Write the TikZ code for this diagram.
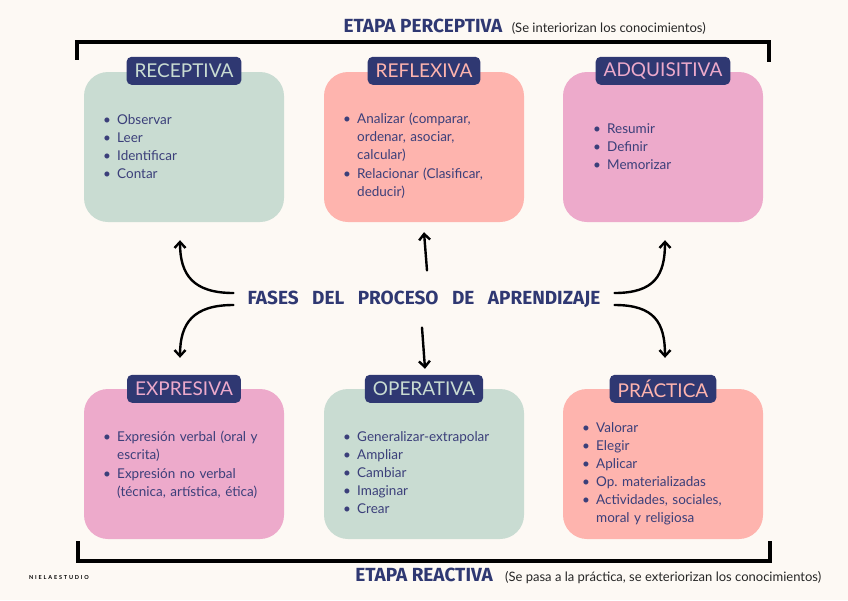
\documentclass[tikz,border=0pt]{standalone}
\usepackage{fontspec}
\setmainfont{Lato}
\newfontfamily\mano{Fira Sans}
\usetikzlibrary{arrows.meta,positioning,calc}
\definecolor{fondo}{HTML}{FDF9F4}
\definecolor{marino}{HTML}{2F3872}
\definecolor{tinta}{HTML}{3B3F7A}
\definecolor{verde}{HTML}{C9DCD2}
\definecolor{salmon}{HTML}{FEB4AE}
\definecolor{rosa}{HTML}{EDAACB}
\newcommand{\itm}[1]{\par\noindent\makebox[14pt][l]{\textbullet}\begin{tabular}[t]{@{}l@{}}#1\end{tabular}}

\begin{document}
\begin{tikzpicture}[x=1pt,y=-1pt,
    caja/.style={rectangle, rounded corners=24pt, minimum width=200pt, minimum height=150pt},
    etiqueta/.style={rectangle, rounded corners=5pt, fill=marino, minimum height=28pt, inner xsep=8pt, inner ysep=0pt, font=\fontsize{19}{20}\selectfont},
    lista/.style={anchor=north west, inner sep=0pt, text width=200pt, align=left, text=tinta, font=\fontsize{13.5}{18}\selectfont},
    titulo/.style={text=marino, inner sep=0pt, font=\mano\bfseries\fontsize{19}{19}\selectfont},
    nota/.style={anchor=base west, inner sep=0pt, text=black!85, font=\fontsize{13}{14}\selectfont},
    flecha/.style={-{Straight Barb[length=6pt,width=11pt]}, line width=2.4pt, line cap=round},
    corchete/.style={line width=4pt, line cap=rect}]
\useasboundingbox[fill=fondo] (0,0) rectangle (848,600);

% cajas de arriba
\node[caja, fill=verde] (receptiva) at (184,147) {};
\node[caja, fill=salmon] (reflexiva) at (424,147) {};
\node[caja, fill=rosa] (adquisitiva) at (663,147) {};
% cajas de abajo
\node[caja, fill=rosa] (expresiva) at (184,464) {};
\node[caja, fill=verde] (operativa) at (424,464) {};
\node[caja, fill=salmon] (practica) at (663,464) {};

% etiquetas
\node[etiqueta, text=verde] at ([yshift=1pt]receptiva.north) {RECEPTIVA};
\node[etiqueta, text=salmon] at ([yshift=1pt]reflexiva.north) {REFLEXIVA};
\node[etiqueta, text=rosa] at ([yshift=1pt]adquisitiva.north) {ADQUISITIVA};
\node[etiqueta, text=rosa] at (expresiva.north) {EXPRESIVA};
\node[etiqueta, text=verde] at (operativa.north) {OPERATIVA};
\node[etiqueta, text=salmon] at (practica.north) {PRÁCTICA};

% listas
\node[lista] (l1) at (103,106) {\itm{Observar}\itm{Leer}\itm{Identificar}\itm{Contar}};
\node[lista] (l2) at (343,105) {\itm{Analizar (comparar,\\ ordenar, asociar,\\ calcular)}\itm{Relacionar (Clasificar,\\ deducir)}};
\node[lista] (l3) at (593,115) {\itm{Resumir}\itm{Definir}\itm{Memorizar}};
\node[lista] (l4) at (103,423) {\itm{Expresión verbal (oral y\\ escrita)}\itm{Expresión no verbal\\ (técnica, artística, ética)}};
\node[lista] (l5) at (343,423) {\itm{Generalizar-extrapolar}\itm{Ampliar}\itm{Cambiar}\itm{Imaginar}\itm{Crear}};
\node[lista] (l6) at (582,414) {\itm{Valorar}\itm{Elegir}\itm{Aplicar}\itm{Op.\ materializadas}\itm{Actividades, sociales,\\ moral y religiosa}};

% corchetes
\draw[corchete] (77,58) -- (77,42) -- (769,42) -- (769,60);
\draw[corchete] (78,543) -- (78,561) -- (770,561) -- (770,543);

% titulos de etapa
\node[titulo] (perceptiva) at (423,26) {ETAPA PERCEPTIVA};
\node[nota] at ([xshift=9pt]perceptiva.base east) {(Se interiorizan los conocimientos)};
\node[titulo] (reactiva) at (424,575) {ETAPA REACTIVA};
\node[nota] at ([xshift=12pt]reactiva.base east) {(Se pasa a la práctica, se exteriorizan los conocimientos)};
\node[inner sep=0pt, font=\bfseries\fontsize{5.5}{6}\selectfont] (firma) at (59,578) {N\,\,I\,\,E\,\,L\,\,A\,\,E\,\,S\,\,T\,\,U\,\,D\,\,I\,\,O};

% centro
\node[titulo] (fases) at (424,299) {FASES\ \ \ DEL\ \ \ PROCESO\ \ \ DE\ \ \ APRENDIZAJE};
\coordinate (a1) at ([shift={(-4pt,-18pt)}]receptiva.south);
\coordinate (a2) at ([shift={(0pt,-10pt)}]reflexiva.south);
\coordinate (a3) at ([shift={(2pt,-18pt)}]adquisitiva.south);
\coordinate (a4) at ([shift={(-4pt,31pt)}]expresiva.north);
\coordinate (a5) at ([shift={(1pt,20pt)}]operativa.north);
\coordinate (a6) at ([shift={(2pt,31pt)}]practica.north);

\draw[flecha] ([shift={(-14pt,6pt)}]fases.west) .. controls +(-40pt,0pt) and +(0pt,-35pt) .. (a1);
\draw[flecha] ([shift={(-14pt,-6pt)}]fases.west) .. controls +(-40pt,0pt) and +(0pt,35pt) .. (a4);
\draw[flecha] ([shift={(14pt,6pt)}]fases.east) .. controls +(40pt,0pt) and +(0pt,-35pt) .. (a3);
\draw[flecha] ([shift={(14pt,-6pt)}]fases.east) .. controls +(40pt,0pt) and +(0pt,35pt) .. (a6);
\draw[flecha] ([shift={(3pt,20pt)}]fases.north) -- (a2);
\draw[flecha] ([shift={(-2pt,-20pt)}]fases.south) -- (a5);
\end{tikzpicture}
\end{document}
